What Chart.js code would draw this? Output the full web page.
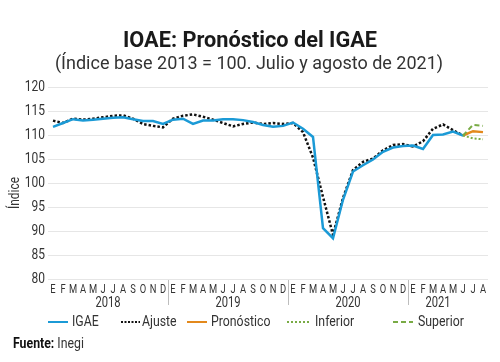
<!DOCTYPE html>
<html>
<head>
<meta charset="utf-8">
<script src="https://cdn.jsdelivr.net/npm/chart.js@4"></script>
<style>
    html, body { margin: 0; padding: 0; background: #fff; }
    #wrap { width: 500px; height: 362px; }
</style>
</head>
<body>
<div id="wrap"><canvas id="igaeChart" width="500" height="362"></canvas></div>
<script>
// Month letters and year labels
const months = ["E","F","M","A","M","J","J","A","S","O","N","D",
                "E","F","M","A","M","J","J","A","S","O","N","D",
                "E","F","M","A","M","J","J","A","S","O","N","D",
                "E","F","M","A","M","J","J","A"];
const years = ["2018", "2019", "2020", "2021"];
const yTicks = [80, 85, 90, 95, 100, 105, 110, 115, 120];

// Series
const igae = [111.7, 112.5, 113.3, 113.0, 113.2, 113.4, 113.6, 113.7, 113.3, 112.9, 112.9, 112.3,
              113.2, 113.4, 112.3, 113.0, 113.0, 113.3, 113.3, 113.1, 112.7, 112.1, 111.7, 111.9,
              112.6, 111.3, 109.6, 90.6, 88.5, 96.5, 102.4, 103.7, 104.9, 106.5, 107.4, 107.7,
              107.8, 107.1, 110.0, 110.1, 110.7, 109.9, null, null];
const ajuste = [113.0, 112.5, 113.4, 113.2, 113.4, 113.7, 114.0, 114.1, 113.4, 112.3, 111.9, 111.6,
                113.4, 114.0, 114.3, 113.8, 113.2, 112.5, 111.8, 112.3, 112.6, 112.3, 112.5, 112.3,
                112.5, 110.6, 105.3, 97.1, 89.2, 96.9, 102.7, 104.4, 105.1, 106.8, 107.9, 108.1,
                107.6, 108.7, 111.3, 112.2, 111.0, 109.9, null, null];
const pronostico = [null, null, null, null, null, null, null, null, null, null, null, null,
                    null, null, null, null, null, null, null, null, null, null, null, null,
                    null, null, null, null, null, null, null, null, null, null, null, null,
                    null, null, null, null, null, 109.9, 110.8, 110.6];
const inferior = [null, null, null, null, null, null, null, null, null, null, null, null,
                  null, null, null, null, null, null, null, null, null, null, null, null,
                  null, null, null, null, null, null, null, null, null, null, null, null,
                  null, null, null, null, null, 109.9, 109.3, 109.1];
const superior = [null, null, null, null, null, null, null, null, null, null, null, null,
                  null, null, null, null, null, null, null, null, null, null, null, null,
                  null, null, null, null, null, null, null, null, null, null, null, null,
                  null, null, null, null, null, 109.9, 112.1, 111.9];

const FONT = "Roboto, 'Noto Sans', sans-serif";
const TEXT = "#333333";
const BLUE = "#1b9ad6";
const ORANGE = "#e3891c";
const GREEN = "#79ab45";

// The original uses a narrow font, so squeeze the text a little
function narrowText(ctx, text, x, y, factor) {
    ctx.fillText(text, x, y, ctx.measureText(text).width * factor);
}

// Title, axis texts, legend and source drawn on top of the chart
const extrasPlugin = {
    id: "extras",
    afterDraw(chart) {
        const ctx = chart.ctx;
        const x = chart.scales.x;
        const y = chart.scales.y;
        const area = chart.chartArea;
        ctx.save();

        // title and subtitle
        ctx.fillStyle = "#1a1a1a";
        ctx.textAlign = "center";
        ctx.textBaseline = "middle";
        ctx.font = "bold 22px " + FONT;
        ctx.fillText("IOAE: Pronóstico del IGAE", 250, 41, 254);
        ctx.font = "18px " + FONT;
        ctx.fillStyle = TEXT;
        ctx.fillText("(Índice base 2013 = 100. Julio y agosto de 2021)", 249, 64, 394);

        // y axis title
        ctx.save();
        ctx.translate(15, 193);
        ctx.rotate(-Math.PI / 2);
        ctx.font = "14px " + FONT;
        narrowText(ctx, "Índice", 0, 0, 0.85);
        ctx.restore();

        // y tick labels
        ctx.textAlign = "right";
        ctx.font = "15px " + FONT;
        yTicks.forEach(v => {
            narrowText(ctx, String(v), 45, y.getPixelForValue(v), 0.8);
        });

        // month letters
        ctx.textAlign = "center";
        ctx.font = "13px " + FONT;
        months.forEach((m, i) => {
            narrowText(ctx, m, x.getPixelForValue(i), 290, 0.72);
        });

        // year separators and labels
        ctx.strokeStyle = "#bdbdbd";
        ctx.lineWidth = 1;
        for (let i = 1; i < years.length; i++) {
            const px = Math.round((x.getPixelForValue(i * 12 - 1) + x.getPixelForValue(i * 12)) / 2) + 0.5;
            ctx.beginPath();
            ctx.moveTo(px, area.bottom + 1);
            ctx.lineTo(px, area.bottom + 26);
            ctx.stroke();
        }
        ctx.font = "14px " + FONT;
        years.forEach((yr, i) => {
            const last = i === 3 ? 41 : i * 12 + 11;
            const cx = (x.getPixelForValue(i * 12) + x.getPixelForValue(last)) / 2;
            narrowText(ctx, yr, cx, 303, 0.8);
        });

        // legend
        const items = [
            { label: "IGAE", color: BLUE, dash: [], x1: 48, x2: 68, tx: 72 },
            { label: "Ajuste", color: "#111", dash: [2, 1.5], x1: 121, x2: 140, tx: 142 },
            { label: "Pronóstico", color: ORANGE, dash: [], x1: 187, x2: 207, tx: 211 },
            { label: "Inferior", color: GREEN, dash: [2, 2], x1: 287, x2: 309, tx: 315 },
            { label: "Superior", color: GREEN, dash: [5, 3], x1: 393, x2: 413, tx: 418 }
        ];
        ctx.font = "15px " + FONT;
        ctx.textAlign = "left";
        items.forEach(it => {
            ctx.strokeStyle = it.color;
            ctx.lineWidth = 2;
            ctx.setLineDash(it.dash);
            ctx.beginPath();
            ctx.moveTo(it.x1, 322);
            ctx.lineTo(it.x2, 322);
            ctx.stroke();
            ctx.setLineDash([]);
            ctx.fillStyle = TEXT;
            narrowText(ctx, it.label, it.tx, 322, 0.82);
        });

        // source
        ctx.fillStyle = "#111";
        ctx.font = "bold 15px " + FONT;
        narrowText(ctx, "Fuente:", 13, 344, 0.82);
        const w = ctx.measureText("Fuente: ").width * 0.82;
        ctx.font = "15px " + FONT;
        ctx.fillStyle = TEXT;
        narrowText(ctx, "Inegi", 13 + w, 344, 0.82);

        ctx.restore();
    }
};

function lineSet(label, data, color, dash, width) {
    return {
        label: label,
        data: data,
        borderColor: color,
        backgroundColor: color,
        borderWidth: width,
        borderDash: dash,
        pointRadius: 0,
        tension: 0,
        spanGaps: false
    };
}

const ctx = document.getElementById("igaeChart").getContext("2d");
new Chart(ctx, {
    type: "line",
    data: {
        labels: months,
        datasets: [
            lineSet("Inferior", inferior, GREEN, [2, 2], 2),
            lineSet("Superior", superior, GREEN, [5, 3], 2),
            lineSet("Pronóstico", pronostico, ORANGE, [], 2.5),
            lineSet("IGAE", igae, BLUE, [], 2.5),
            lineSet("Ajuste", ajuste, "#111", [2.5, 2], 2.5)
        ]
    },
    options: {
        responsive: false,
        animation: false,
        layout: { padding: { top: 87, right: 12, left: 0, bottom: 0 } },
        plugins: {
            legend: { display: false },
            tooltip: { enabled: false }
        },
        scales: {
            x: {
                offset: true,
                grid: { display: false },
                border: { display: false },
                ticks: { display: false },
                afterFit(scale) { scale.height = 83; }
            },
            y: {
                min: 80,
                max: 120,
                afterBuildTicks(scale) { scale.ticks = yTicks.map(v => ({ value: v })); },
                grid: { color: "#e6e6e6", drawTicks: false },
                border: { display: false },
                ticks: { display: false },
                afterFit(scale) { scale.width = 48; }
            }
        }
    },
    plugins: [extrasPlugin]
});
</script>
</body>
</html>
